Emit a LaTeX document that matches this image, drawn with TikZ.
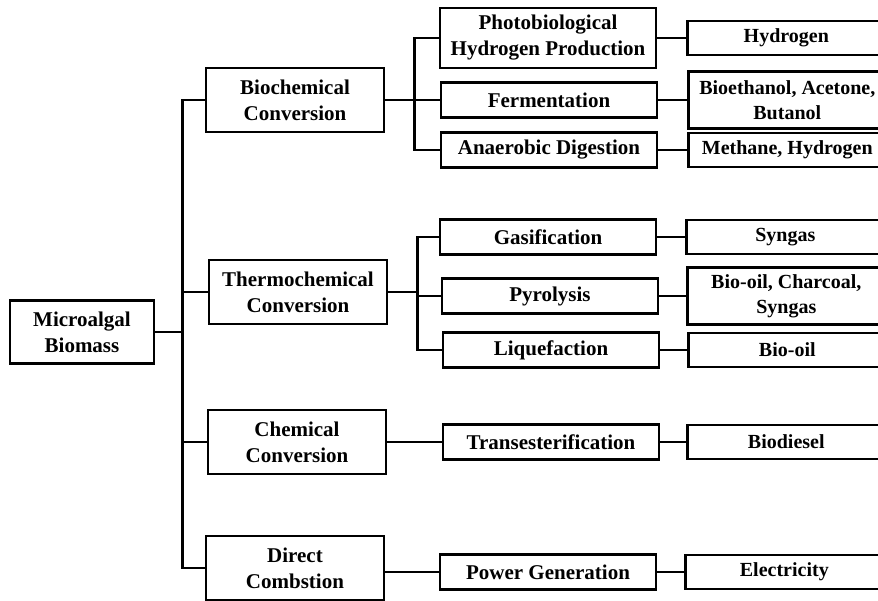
\documentclass[tikz,border=0pt]{standalone}
\usepackage{fontspec}
\setmainfont{Liberation Serif}

\begin{document}
\begin{tikzpicture}[
        x = 1pt, y = -1pt,
        line width = 2.6pt,
        box/.style = {%
            draw, rectangle, align = center, inner sep = 2pt,
            font = \fontsize{21}{26}\selectfont\bfseries
        },
        stage/.style   = {box, minimum width = 178pt, minimum height = 64pt},
        route/.style   = {box, minimum width = 216pt, minimum height = 35pt},
        product/.style = {%
            box, anchor = west, minimum width = 198pt, minimum height = 34pt,
            font = \fontsize{20}{25}\selectfont\bfseries
        }
    ]

        % Page frame; the product boxes run off the right edge.
        \useasboundingbox (0, 0) rectangle (878, 600);
        \clip (0, 0) rectangle (878, 600);

        % Source.
        \node[box, minimum width = 144pt, minimum height = 63pt] (biomass) at (82, 332) {Microalgal\\Biomass};

        % Conversion stages.
        \node[stage] (biochem) at (295, 100) {Biochemical\\Conversion};
        \node[stage] (thermo)  at (298, 292) {Thermochemical\\Conversion};
        \node[stage] (chem)    at (297, 442) {Chemical\\Conversion};
        \node[stage] (direct)  at (295, 568) {Direct\\Combstion};

        % Processes.
        \node[route, minimum height = 60pt] (photo) at (548, 38) {Photobiological\\Hydrogen Production};
        \node[route] (ferm)   at (549, 100) {Fermentation};
        \node[route] (anaer)  at (549, 150) {Anaerobic Digestion};
        \node[route] (gasif)  at (548, 237) {Gasification};
        \node[route] (pyro)   at (550, 296) {Pyrolysis};
        \node[route] (liquef) at (551, 350) {Liquefaction};
        \node[route] (trans)  at (551, 442) {Transesterification};
        \node[route] (power)  at (548, 572) {Power Generation};

        % Products.
        \node[product] (hydro) at (686, 38) {Hydrogen};
        \node[product, minimum height = 57pt] (ethanol) at (687, 100) {Bioethanol, Acetone,\\Butanol};
        \node[product] (methane) at (687, 150) {Methane, Hydrogen};
        \node[product] (syngas)  at (685, 237) {Syngas};
        \node[product, minimum height = 57pt] (oilmix) at (686, 296) {Bio-oil, Charcoal,\\Syngas};
        \node[product] (biooil)  at (687, 350) {Bio-oil};
        \node[product] (diesel)  at (686, 442) {Biodiesel};
        \node[product] (elec)    at (684, 572) {Electricity};

        % Trunk.
        \foreach\n in {biochem, thermo, chem, direct}{%
            \draw (biomass.east) -- ++(27, 0) |- (\n.west);
        }

        % Branches.
        \foreach\n in {photo, ferm, anaer}{%
            \draw (biochem.east) -- ++(29, 0) |- (\n.west);
        }
        \foreach\n in {gasif, pyro, liquef}{%
            \draw (thermo.east) -- ++(29, 0) |- (\n.west);
        }
        \draw (chem.east) -- (trans.west);
        \draw (direct.east |- power.west) -- (power.west);

        % Process to product.
        \foreach\a/\b in {photo/hydro, ferm/ethanol, anaer/methane, gasif/syngas,
                          pyro/oilmix, liquef/biooil, trans/diesel, power/elec}{%
            \draw (\a.east) -- (\b.west);
        }
    \end{tikzpicture}
\end{document}
